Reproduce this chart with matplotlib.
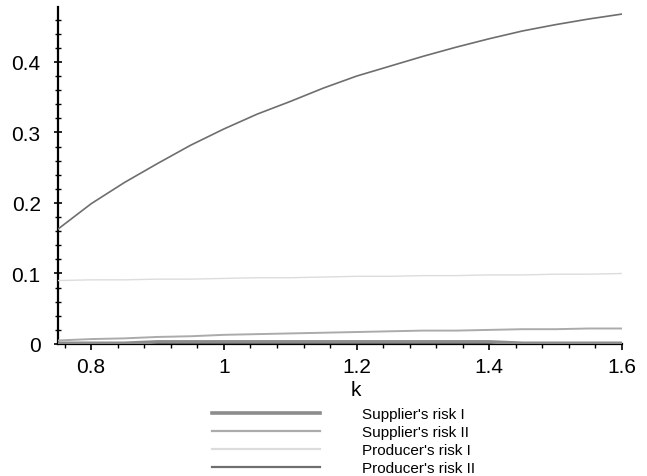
import matplotlib
matplotlib.use("Agg")
import matplotlib.pyplot as plt
from matplotlib.ticker import MultipleLocator, FixedLocator, FixedFormatter
from matplotlib.lines import Line2D

plt.rcParams['font.family'] = ['Liberation Sans', 'DejaVu Sans']

k = [0.75, 0.80, 0.85, 0.90, 0.95, 1.00, 1.05, 1.10, 1.15, 1.20,
     1.25, 1.30, 1.35, 1.40, 1.45, 1.50, 1.55, 1.60]
producer_risk_II = [0.163, 0.199, 0.229, 0.256, 0.282, 0.305, 0.326, 0.344, 0.363, 0.380,
                    0.394, 0.408, 0.421, 0.433, 0.444, 0.453, 0.461, 0.468]
producer_risk_I = [0.090, 0.091, 0.091, 0.092, 0.092, 0.093, 0.094, 0.094, 0.095, 0.096,
                   0.096, 0.097, 0.097, 0.098, 0.098, 0.099, 0.099, 0.100]
supplier_risk_II = [0.005, 0.007, 0.008, 0.010, 0.011, 0.013, 0.014, 0.015, 0.016, 0.017,
                    0.018, 0.019, 0.019, 0.020, 0.021, 0.021, 0.022, 0.022]
supplier_risk_I = [0.001, 0.001, 0.001, 0.003, 0.003, 0.003, 0.003, 0.003, 0.003, 0.003,
                   0.003, 0.003, 0.003, 0.003, 0.001, 0.001, 0.001, 0.001]

labels = ["Supplier's risk I", "Supplier's risk II", "Producer's risk I", "Producer's risk II"]
colors = ['#8c8c8c', '#ababab', '#dcdcdc', '#6e6e6e']
widths = [2.6, 1.4, 1.0, 1.2]
series = [supplier_risk_I, supplier_risk_II, producer_risk_I, producer_risk_II]

fig = plt.figure(figsize=(6.47, 4.77), dpi=100)
ax = fig.add_axes([58/647, 1-345/477, (622-58)/647, (345-8)/477])

for s, c, w in zip(series, colors, widths):
    ax.plot(k, s, color=c, lw=w, zorder=2)

ax.set_xlim(0.75, 1.6)
ax.set_ylim(0, 0.478)
for sp in ['top', 'right']:
    ax.spines[sp].set_visible(False)
for sp in ['left', 'bottom']:
    ax.spines[sp].set_linewidth(1.6)
    ax.spines[sp].set_color('black')
    ax.spines[sp].set_zorder(1)

ax.xaxis.set_major_locator(FixedLocator([0.8, 1.0, 1.2, 1.4, 1.6]))
ax.xaxis.set_major_formatter(FixedFormatter(['0.8', '1', '1.2', '1.4', '1.6']))
ax.xaxis.set_minor_locator(MultipleLocator(0.04))
ax.yaxis.set_major_locator(FixedLocator([0, 0.1, 0.2, 0.3, 0.4]))
ax.yaxis.set_major_formatter(FixedFormatter(['0', '0.1', '0.2', '0.3', '0.4']))
ax.yaxis.set_minor_locator(MultipleLocator(0.02))

ax.tick_params(axis='x', which='major', direction='out', length=4.5, width=1.2, labelsize=15, pad=5)
ax.tick_params(axis='x', which='minor', direction='out', length=3, width=1.0)
ax.tick_params(axis='y', which='major', direction='inout', length=6, width=1.2, labelsize=15, pad=9.5)
ax.tick_params(axis='y', which='minor', direction='inout', length=4, width=1.0)

fig.text(356/647, 1-390/477, 'k', fontsize=15, ha='center', va='center')

handles = [Line2D([], [], color=c, lw=max(w, 1.6)) for c, w in zip(colors, widths)]
fig.legend(handles, labels, loc='upper left', bbox_to_anchor=(212/647, 1-408/477),
           frameon=False, fontsize=11, handlelength=7.05, handletextpad=2.75,
           labelspacing=0.26, borderpad=0, borderaxespad=0)

fig.savefig('out.png', dpi=100, facecolor='white')
